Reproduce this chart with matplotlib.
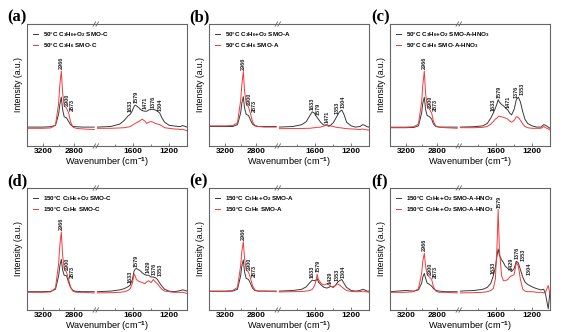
import numpy as np
import matplotlib
matplotlib.use("Agg")
import matplotlib.pyplot as plt

plt.rcParams['font.family'] = ['Liberation Sans', 'DejaVu Sans']
plt.rcParams['font.weight'] = 'bold'
plt.rcParams['mathtext.fontset'] = 'custom'
plt.rcParams['mathtext.rm'] = 'Liberation Sans:bold'
plt.rcParams['mathtext.it'] = 'Liberation Sans:bold'
plt.rcParams['mathtext.bf'] = 'Liberation Sans:bold'
plt.rcParams['mathtext.default'] = 'rm'

# wavenumber grid (cm-1) shared by every spectrum; the axis is broken between 2550 and 2000
wn_high = [3400, 3200, 3100, 3040, 3000, 2985, 2966, 2950, 2930, 2900, 2873, 2850, 2820, 2780, 2700, 2550]
wn_low = [2000, 1850, 1750, 1700, 1660, 1633, 1610, 1590, 1579, 1565, 1540, 1520, 1500, 1471, 1450,
          1429, 1400, 1376, 1353, 1330, 1304, 1280, 1250, 1200, 1150, 1100, 1070, 1050, 1020, 1000]

# intensities (a.u.), high region followed by low region
a_o2 = [15.5, 15.5, 15.8, 17, 26, 34, 40, 30, 24, 23, 20, 17.5, 16, 15.8, 15.5, 15.5,
        15.5, 16, 18, 21, 24.5, 26, 29, 32.5, 33.5, 33, 31.5, 30, 29, 28.5, 28.5,
        29.5, 30, 30, 29.5, 28.5, 27, 23, 19.5, 17, 16.5, 16, 16, 16.8, 16, 15.5]
a_c3 = [14.5, 14.5, 14.8, 17, 35, 50, 61.5, 44, 33, 31, 27, 20, 15.5, 14.5, 14, 13.5,
        14.5, 14.5, 14.8, 15, 15.5, 16, 17, 18, 18.5, 19, 20, 21, 22, 20.5, 18.5,
        19.5, 20, 19.5, 18.5, 18, 17.5, 16.5, 15, 14.5, 14, 13.8, 13.5, 13.8, 13, 12.5]
b_o2 = [16, 16, 16, 17.5, 27, 35, 40.5, 31, 26, 25, 21, 18, 16.5, 16, 16, 16,
        15.5, 16, 17.5, 20, 25, 28, 27, 24.5, 23.5, 22, 19.5, 18, 17, 17.5, 16.5,
        17, 19, 22, 25, 28, 29.5, 26, 19.5, 16.5, 15.5, 16, 17.5, 17, 15.8, 15.5]
b_c3 = [16.5, 16.5, 16.8, 19, 37, 50, 61, 45, 35, 32, 26, 20, 17, 16, 15.5, 15.5,
        14.2, 14.3, 14.3, 14.5, 14.5, 14.8, 15, 15.2, 15.5, 15.3, 15.5, 16, 16.5, 17, 16,
        16.5, 16, 15.5, 15.2, 15, 14.8, 14.5, 14.2, 14, 13.8, 13.5, 14, 13.5, 13.2, 13]
c_o2 = [15, 15, 15.2, 16.5, 27, 35, 40, 30, 25, 24, 22, 18, 16, 15.5, 15.5, 15.5,
        15.5, 15.8, 16.5, 18.5, 23, 27, 31, 35, 38, 36, 34, 33, 31.5, 29.5, 27,
        25.5, 30, 38, 40, 36, 28, 22, 18.5, 16.5, 15.5, 15.5, 17.5, 17, 15.5, 14.5]
c_c3 = [15.5, 15.5, 15.8, 18, 36, 50, 61.5, 43, 33, 30, 27, 20, 16.5, 15.5, 15, 14.5,
        15, 15, 15.3, 16, 18, 20, 22, 23, 24, 24.5, 24, 23.5, 23, 22, 20.5,
        19.5, 21, 24, 23.5, 21, 18, 16, 15, 14.5, 14.5, 14.5, 16, 15, 14, 13]
d_o2 = [15, 15, 15.3, 17, 28, 36, 41.5, 33, 28.5, 28, 22.5, 18.5, 16, 15.3, 15, 15,
        15, 15.5, 16.5, 17.5, 19, 20.5, 25, 32, 33.5, 34, 33, 32, 30.5, 29, 28.5,
        28.5, 27, 27, 26.5, 25, 22, 19.5, 17, 15.5, 15, 15.5, 16, 16.5, 16, 15.5]
d_c3 = [14.5, 14.5, 14.8, 18, 38, 53, 64, 45, 34, 31, 25, 19, 15.5, 14.5, 14.5, 14,
        14, 14.2, 14.5, 15, 16, 17.5, 22, 29.5, 28, 25, 23.5, 23, 22.5, 21.5, 23,
        24, 22.5, 25, 23, 21.5, 19, 17, 15.5, 15, 14.5, 14.5, 14.5, 14.5, 14, 13.5]
e_o2 = [15.3, 15.3, 15.5, 17, 28, 36, 41, 31, 26, 25, 21.5, 18, 16, 15.5, 15.5, 15.5,
        15.5, 16, 17, 19, 22.5, 24.5, 24, 24.5, 26, 23, 21, 19.5, 18.5, 18, 18.5,
        19.5, 18.5, 20, 22.5, 24, 25, 22, 18.5, 16, 15.5, 16, 17, 16.5, 15.5, 15.5]
e_c3 = [15.5, 15.5, 16, 18.5, 36, 48, 56, 42, 33, 31, 25.5, 20, 16.5, 15.5, 15.5, 15,
        14.8, 15, 15.2, 15.5, 16, 17, 19.5, 24, 29.5, 25, 22.5, 21, 20.5, 21.5, 21,
        19.5, 19, 20, 21.5, 20.5, 19, 17.5, 16, 15.3, 15, 15, 15.5, 15, 14.8, 14.5]
f_o2 = [15, 16, 15.5, 16.5, 22, 27, 30, 26, 22, 21, 19.5, 17.5, 16, 15.5, 15, 15,
        15.5, 16, 17, 18.5, 22, 28, 35, 45, 50, 45, 41, 39, 36, 34, 33,
        31.5, 34, 40, 38.5, 33, 27, 23, 21, 19, 17.5, 16.5, 17, 13, 1, 15]
f_c3 = [14.5, 14.5, 15, 17.5, 30, 40, 46.5, 36, 29, 27, 25, 19, 15.5, 14.5, 14.5, 14,
        14, 14.2, 14.5, 15, 16, 17.5, 25, 55, 82.5, 50, 28, 24, 24, 25, 27,
        28, 29, 39, 36, 25, 17, 15.5, 15, 15, 14.5, 14.5, 14, 14.5, 20, 13]

panel_tags = ['(a)', '(b)', '(c)', '(d)', '(e)', '(f)']
series_o2 = [a_o2, b_o2, c_o2, d_o2, e_o2, f_o2]
series_c3 = [a_c3, b_c3, c_c3, d_c3, e_c3, f_c3]
legend_o2 = ['50°C C$_3$H$_6$+O$_2$ SMO-C', '50°C C$_3$H$_6$+O$_2$ SMO-A',
             '50°C C$_3$H$_6$+O$_2$ SMO-A-HNO$_3$', '150°C C$_3$H$_6$+O$_2$ SMO-C',
             '150°C C$_3$H$_6$+O$_2$ SMO-A', '150°C C$_3$H$_6$+O$_2$ SMO-A-HNO$_3$']
legend_c3 = ['50°C C$_3$H$_6$ SMO-C', '50°C C$_3$H$_6$ SMO-A',
             '50°C C$_3$H$_6$ SMO-A-HNO$_3$', '150°C C$_3$H$_6$ SMO-C',
             '150°C C$_3$H$_6$ SMO-A', '150°C C$_3$H$_6$+O$_2$ SMO-A-HNO$_3$']
peak_labels = [
    [2966, 2900, 2873, 1633, 1579, 1471, 1376, 1304],
    [2966, 2900, 2873, 1633, 1579, 1471, 1353, 1304],
    [2966, 2900, 2873, 1633, 1579, 1471, 1376, 1353],
    [2966, 2900, 2873, 1633, 1579, 1429, 1376, 1353],
    [2966, 2900, 2873, 1633, 1579, 1429, 1353, 1304],
    [2966, 2900, 2873, 1633, 1579, 1429, 1376, 1353, 1304],
]

GREY = '#3a3a3a'
RED = '#f23a3a'
FRAME = '#666666'


def xmap(wn):
    # broken axis: 3400-2550 on the left part, 2000-1000 on the right part
    wn = np.asarray(wn, dtype=float)
    return np.where(wn > 2300, (3400 - wn) / 850 * 0.42, 0.44 + (2000 - wn) / 1000 * 0.56)


fig = plt.figure(figsize=(5.67, 3.32), dpi=100)
lefts = [27 / 567, 209 / 567, 390 / 567]
bottoms = [1 - 146 / 332, 1 - 310 / 332]
w, h = 160 / 567, 122 / 332
tag_x = [0.012, 0.334, 0.655]
tag_y = [0.948, 0.455]
label_gap = 0.036  # minimum horizontal spacing between peak labels (axes fraction)

nh = len(wn_high)
wn_all = np.asarray(wn_high + wn_low, dtype=float)
order = np.argsort(wn_all)
for i in range(6):
    r, c = divmod(i, 3)
    ax = fig.add_axes([lefts[c], bottoms[r], w, h])
    o2 = np.asarray(series_o2[i], dtype=float)
    c3 = np.asarray(series_c3[i], dtype=float)
    for part in (slice(0, nh), slice(nh, None)):
        l1, = ax.plot(xmap(wn_all[part]), o2[part], color=GREY, lw=0.7)
        l2, = ax.plot(xmap(wn_all[part]), c3[part], color=RED, lw=0.7)
    ax.set_xlim(0, 1)
    ax.set_ylim(0, 100)
    ax.set_yticks([])
    ax.set_xticks(xmap([3200, 2800, 1600, 1200]))
    ax.set_xticklabels(['3200', '2800', '1600', '1200'])
    ax.set_xticks(xmap([3000, 1800, 1400]), minor=True)
    ax.tick_params(axis='x', which='both', direction='in', color=FRAME, width=0.6,
                   labelsize=6, pad=1.5)
    ax.tick_params(axis='x', which='major', length=2.5)
    ax.tick_params(axis='x', which='minor', length=1.5)
    for s in ax.spines.values():
        s.set_color(FRAME)
        s.set_linewidth(0.8)
    ax.set_xlabel('Wavenumber (cm$^{-1}$)', fontsize=6.6, labelpad=0.5)
    ax.set_ylabel('Intensity (a.u.)', fontsize=6.2, labelpad=3)

    # break marks on the top and bottom frame
    for yb in (0, 1):
        ax.plot([0.418, 0.442], [yb, yb], transform=ax.transAxes, color='white',
                lw=1.6, clip_on=False, solid_capstyle='butt')
        for xb in (0.421, 0.439):
            ax.plot([xb - 0.008, xb + 0.008], [yb - 0.018, yb + 0.018], transform=ax.transAxes,
                    color=FRAME, lw=0.6, clip_on=False)

    # peak assignments, spread sideways so neighbouring labels do not collide
    xs = xmap(peak_labels[i])
    prev = -1.0
    for p, xp in sorted(zip(peak_labels[i], xs), key=lambda t: t[1]):
        top = max(np.interp(p, wn_all[order], o2[order]), np.interp(p, wn_all[order], c3[order]))
        xp = max(float(xp), prev + label_gap)
        prev = xp
        ax.text(xp, top + 1.5, str(p), rotation=90, ha='center', va='bottom',
                fontsize=4, color='#222222', clip_on=False)

    ax.legend([l1, l2], [legend_o2[i], legend_c3[i]], loc='upper left', frameon=False,
              fontsize=4.5, handlelength=0.7, handletextpad=0.8, borderaxespad=0.6,
              labelspacing=0.25)

    fig.text(tag_x[c], tag_y[r], panel_tags[i], fontsize=12, fontweight='bold',
             family='Liberation Serif', va='center', ha='left')

fig.savefig('out.png', dpi=100)
